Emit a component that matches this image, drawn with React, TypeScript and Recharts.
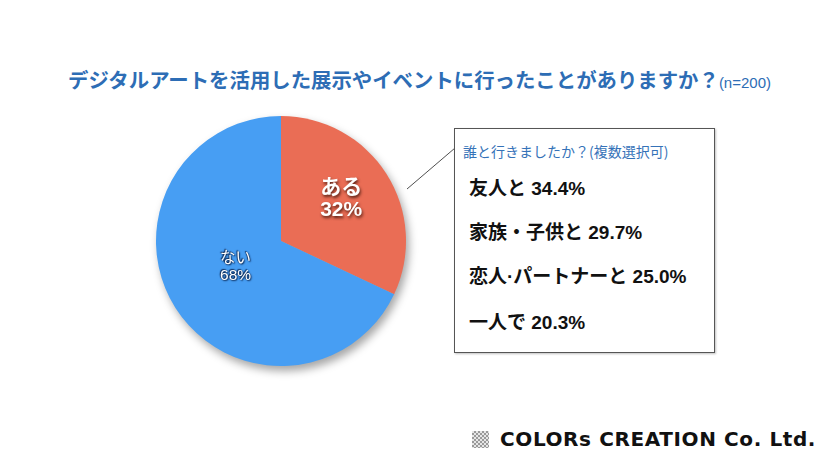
import React from "react";
import { PieChart, Pie, Cell } from "recharts";

const categories = ["ある", "ない"];
const shares = [32, 68];
const sliceColors = ["#EA6D55", "#479EF3"];
const companions = ["友人と", "家族・子供と", "恋人·パートナーと", "一人で"];
const companionShares = ["34.4%", "29.7%", "25.0%", "20.3%"];
const titleText = "デジタルアートを活用した展示やイベントに行ったことがありますか？";
const sampleText = "(n=200)";
const boxHeading = "誰と行きましたか？(複数選択可)";
const footerText = "COLORs CREATION Co. Ltd.";

const data = categories.map((name, i) => ({ name, value: shares[i] }));

const JP = '"Noto Sans CJK JP", "Noto Sans", sans-serif';
const LJP = '"Liberation Sans", "Noto Sans CJK JP", sans-serif';
const itemTops = [173, 217, 261, 307];

const renderLabel = (props: any) => {
  const { cx, cy, midAngle, outerRadius, index, name, value } = props;
  const RAD = Math.PI / 180;
  const factor = index === 0 ? 0.57 : 0.43;
  const r = outerRadius * factor;
  const x = cx + r * Math.cos(-midAngle * RAD);
  const y = cy + r * Math.sin(-midAngle * RAD);
  const big = index === 0;
  const fs = big ? 21 : 15.5;
  const gap = big ? 22 : 17;
  const shadow = big
    ? "1px 2px 3px rgba(60,20,10,0.85)"
    : "0 0 1.5px #0d2c5a, 1px 1px 1.5px #0d2c5a, -1px -1px 1px #0d2c5a";
  return (
    <text
      x={x}
      y={y}
      fill="#ffffff"
      textAnchor="middle"
      style={{ fontFamily: LJP, fontWeight: big ? 700 : 400, fontSize: fs, textShadow: shadow }}
    >
      <tspan x={x} dy={-gap / 2 + fs * 0.1}>{name}</tspan>
      <tspan x={x} dy={gap}>{`${value}%`}</tspan>
    </text>
  );
};

export default function App() {
  return (
    <div
      style={{
        position: "absolute",
        left: 0,
        top: 0,
        width: 830,
        height: 466,
        background: "#ffffff",
        overflow: "hidden",
        fontFamily: JP,
      }}
    >
      <div
        style={{
          position: "absolute",
          left: 0,
          top: 0,
          width: 830,
          height: 466,
          filter: "drop-shadow(3px 5px 4px rgba(0,0,0,0.35))",
        }}
      >
        <PieChart width={830} height={466} margin={{ top: 0, right: 0, bottom: 0, left: 0 }}>
          <Pie
            data={data}
            dataKey="value"
            nameKey="name"
            cx={281}
            cy={241}
            outerRadius={125}
            startAngle={90}
            endAngle={-270}
            stroke="none"
            labelLine={false}
            label={renderLabel}
            isAnimationActive={false}
          >
            {data.map((d, i) => (
              <Cell key={d.name} fill={sliceColors[i]} />
            ))}
          </Pie>
        </PieChart>
      </div>

      <div
        style={{
          position: "absolute",
          left: 68,
          top: 64,
          color: "#2D6DB5",
          fontWeight: 700,
          fontSize: 20.4,
          whiteSpace: "nowrap",
        }}
      >
        {titleText}
        <span style={{ fontSize: 15, fontWeight: 400, fontFamily: '"Liberation Sans", sans-serif' }}>
          {sampleText}
        </span>
      </div>

      <svg style={{ position: "absolute", left: 0, top: 0 }} width={830} height={466}>
        <line x1={407} y1={189} x2={455} y2={148} stroke="#222" strokeWidth={0.8} />
      </svg>

      <div
        style={{
          position: "absolute",
          left: 454,
          top: 128,
          width: 259,
          height: 223,
          border: "1px solid #555",
          background: "#ffffff",
          boxShadow: "1px 1px 2px rgba(0,0,0,0.25)",
        }}
      >
        <div
          style={{
            position: "absolute",
            left: 8,
            top: 12,
            fontSize: 14,
            color: "#3572B8",
            whiteSpace: "nowrap",
          }}
        >
          {boxHeading}
        </div>
      </div>
      {companions.map((c, i) => (
        <div
          key={c}
          style={{
            position: "absolute",
            left: 469,
            top: itemTops[i],
            fontSize: 19,
            fontFamily: LJP,
            fontWeight: 700,
            color: "#111",
            whiteSpace: "nowrap",
          }}
        >
          {c} {companionShares[i]}
        </div>
      ))}

      <div
        style={{
          position: "absolute",
          left: 472,
          top: 431,
          width: 17,
          height: 17,
          backgroundImage: "repeating-conic-gradient(#9a9a9a 0% 25%, #e6e6e6 0% 50%)",
          backgroundSize: "4px 4px",
        }}
      />
      <div
        style={{
          position: "absolute",
          left: 500,
          top: 427,
          fontFamily: '"DejaVu Sans", sans-serif',
          fontWeight: 700,
          fontSize: 20,
          letterSpacing: 0.6,
          color: "#111",
          whiteSpace: "nowrap",
        }}
      >
        {footerText}
      </div>
    </div>
  );
}
